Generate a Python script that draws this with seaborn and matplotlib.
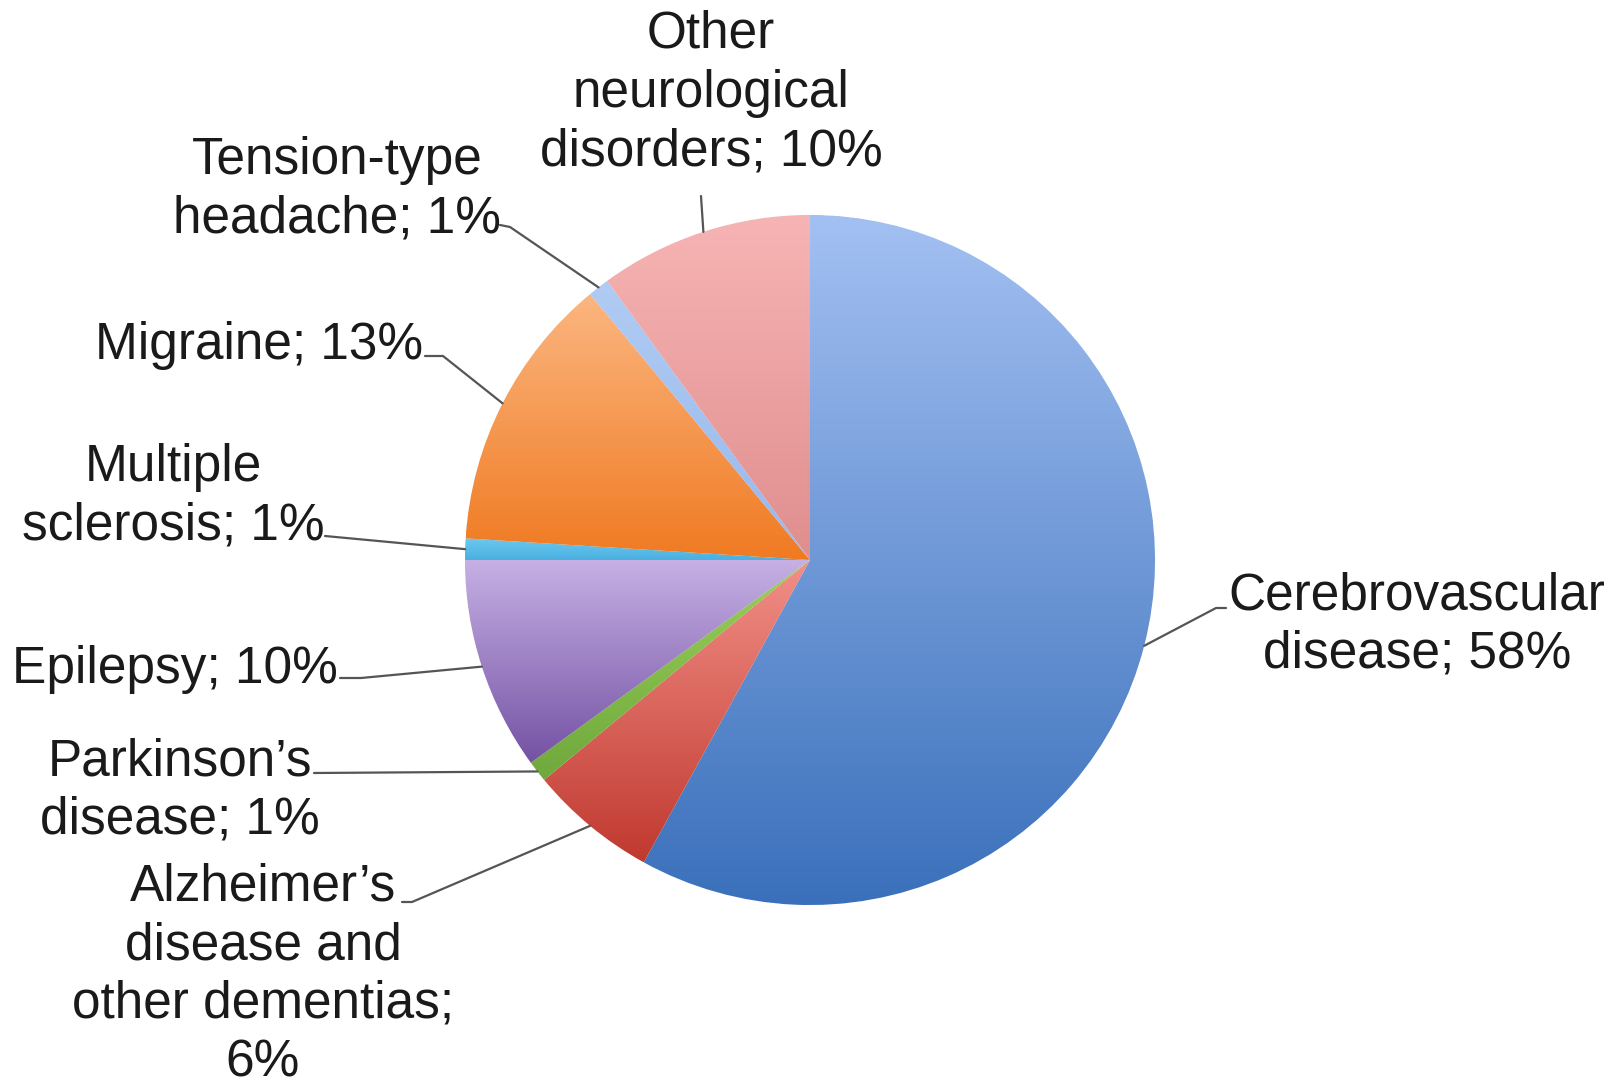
import numpy as np
import matplotlib
matplotlib.use("Agg")
import matplotlib.pyplot as plt
from matplotlib.colors import LinearSegmentedColormap
import seaborn as sns

# Datos del grafico (orden horario desde las 12)
categories = ["Cerebrovascular disease", "Alzheimer\u2019s disease and other dementias",
              "Parkinson\u2019s disease", "Epilepsy", "Multiple sclerosis", "Migraine",
              "Tension-type headache", "Other neurological disorders"]
values = [58, 6, 1, 10, 1, 13, 1, 10]
labels = ["Cerebrovascular\ndisease; 58%",
          "Alzheimer\u2019s\ndisease and\nother dementias;\n6%",
          "Parkinson\u2019s\ndisease; 1%",
          "Epilepsy; 10%",
          "Multiple\nsclerosis; 1%",
          "Migraine; 13%",
          "Tension-type\nheadache; 1%",
          "Other\nneurological\ndisorders; 10%"]
top_colors = ["#a3c0f2", "#f29088", "#9ad05a", "#c6b0e4", "#6cc8ee", "#fbb680", "#b0ccf4", "#f7b4b4"]
bottom_colors = ["#3a70bb", "#c0392f", "#6fa83c", "#7452a4", "#4ab0e0", "#f07a22", "#98b8ec", "#e08e8e"]

# Posiciones de etiquetas (pixeles, y hacia abajo)
label_pos = [(1417, 625, "center"), (263, 975, "center"), (180, 791, "center"),
             (12, 670, "left"), (173, 497, "center"), (423, 345, "right"),
             (337, 190, "center"), (711, 93, "center")]
leader_start = [[(1226, 608), (1216, 608)], [(402, 902), (412, 902)], [(314, 773)],
                [(340, 678), (361, 678)], [(325, 536)], [(425, 356), (443, 356)],
                [(500, 225), (510, 227)], [(701, 196)]]

W, H = 1616, 1088
cx, cy, r = 810, 560, 345

sns.set_theme(style="white")
plt.rcParams["font.family"] = ["Liberation Sans", "DejaVu Sans"]

fig = plt.figure(figsize=(W / 100, H / 100), dpi=100)
ax = fig.add_axes([0, 0, 1, 1])

wedges, _ = ax.pie(values, center=(cx, H - cy), radius=r, startangle=90,
                   counterclock=False, frame=True,
                   wedgeprops=dict(edgecolor="white", linewidth=0.8))
ax.set_xlim(0, W)
ax.set_ylim(0, H)
ax.set_aspect("equal")
ax.axis("off")

# Relleno degradado (claro arriba, oscuro abajo)
grad = np.linspace(0, 1, 256).reshape(-1, 1)
for w, c0, c1 in zip(wedges, top_colors, bottom_colors):
    bb = w.get_path().get_extents()
    cmap = LinearSegmentedColormap.from_list("g", [c0, c1])
    im = ax.imshow(grad, cmap=cmap, aspect="auto", origin="upper",
                   extent=(bb.x0, bb.x1, bb.y0, bb.y1), zorder=2)
    im.set_clip_path(w)

# Etiquetas y lineas guia
for w, lab, (tx, ty, ha), pts in zip(wedges, labels, label_pos, leader_start):
    mid = np.deg2rad((w.theta1 + w.theta2) / 2)
    ex, ey = cx + r * np.cos(mid), cy - r * np.sin(mid)
    xs = [p[0] for p in pts] + [ex]
    ys = [H - p[1] for p in pts] + [H - ey]
    ax.plot(xs, ys, color="#555555", lw=1.6, zorder=3)
    ax.text(tx, H - ty, lab, ha=ha, va="center", fontsize=37, color="#1a1a1a",
            linespacing=1.25, multialignment="center")

ax.set_xlim(0, W)
ax.set_ylim(0, H)
fig.savefig("out.png", dpi=100, facecolor="white")
